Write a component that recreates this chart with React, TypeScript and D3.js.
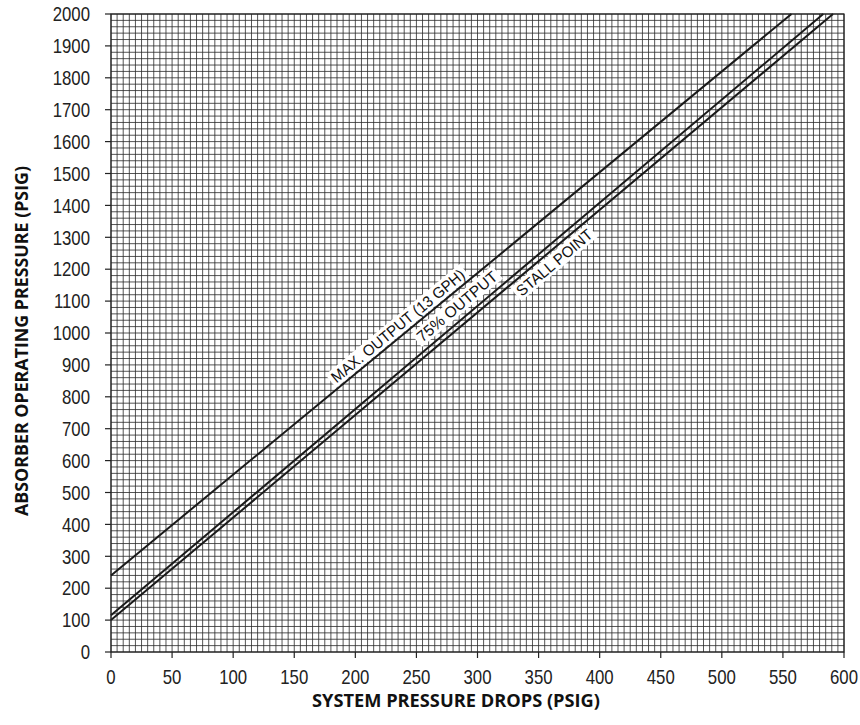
import * as d3 from "d3"

// tick labels
const xTicks = [0, 50, 100, 150, 200, 250, 300, 350, 400, 450, 500, 550, 600]
const yTicks = [0, 100, 200, 300, 400, 500, 600, 700, 800, 900, 1000, 1100, 1200, 1300, 1400, 1500, 1600, 1700, 1800, 1900, 2000]

// curves (system pressure drop -> absorber operating pressure)
const maxOutput: [number, number][] = [[0, 240], [557, 2000]]
const output75: [number, number][] = [[0, 115], [583, 2000]]
const stallPoint: [number, number][] = [[0, 100], [591, 2000]]

const seriesNames = ["MAX. OUTPUT (13 GPH)", "75% OUTPUT", "STALL POINT"]
// x value along each line where its label sits
const labelAt = [240, 290, 357]

const W = 860
const H = 725
const margin = { top: 14, right: 16, bottom: 73, left: 111 }

export default function App() {
  const x = d3.scaleLinear().domain([0, 600]).range([margin.left, W - margin.right])
  const y = d3.scaleLinear().domain([0, 2000]).range([H - margin.bottom, margin.top])

  const line = d3
    .line<[number, number]>()
    .x((d) => x(d[0]))
    .y((d) => y(d[1]))

  const series = [maxOutput, output75, stallPoint]
  // label placement: offset perpendicular to the line (negative = above)
  const offsets = [-10, -13, 11]
  const widths = [168, 100, 94]

  const gridX = d3.range(0, 601, 5)
  const gridY = d3.range(0, 2001, 20)

  const interp = (pts: [number, number][], xv: number) => {
    const [a, b] = pts
    return a[1] + ((b[1] - a[1]) * (xv - a[0])) / (b[0] - a[0])
  }

  return (
    <svg
      width={W}
      height={H}
      style={{ position: "absolute", left: 0, top: 0, background: "#fff" }}
      fontFamily="'Liberation Sans', Arial, sans-serif"
    >
      {/* grid */}
      <g stroke="#2a2a2a" strokeWidth={0.8}>
        {gridX.map((v) => (
          <line key={"gx" + v} x1={x(v)} x2={x(v)} y1={y(0)} y2={y(2000)} />
        ))}
        {gridY.map((v) => (
          <line key={"gy" + v} x1={x(0)} x2={x(600)} y1={y(v)} y2={y(v)} />
        ))}
      </g>
      <rect
        x={x(0)}
        y={y(2000)}
        width={x(600) - x(0)}
        height={y(0) - y(2000)}
        fill="none"
        stroke="#222"
        strokeWidth={1.2}
      />

      {/* y axis */}
      <g>
        {yTicks.map((v) => (
          <g key={"yt" + v}>
            <line x1={x(0) - 6} x2={x(0)} y1={y(v)} y2={y(v)} stroke="#222" strokeWidth={1.2} />
            <text
              transform={`translate(90,${y(v)}) scale(0.84,1)`}
              dy="0.36em"
              textAnchor="end"
              fontSize={20}
              fill="#222"
            >
              {v}
            </text>
          </g>
        ))}
      </g>

      {/* x axis */}
      <g>
        {xTicks.map((v) => (
          <g key={"xt" + v}>
            <line x1={x(v)} x2={x(v)} y1={y(0)} y2={y(0) + 6} stroke="#222" strokeWidth={1.2} />
            <text
              transform={`translate(${x(v)},683.5) scale(0.84,1)`}
              textAnchor="middle"
              fontSize={20}
              fill="#222"
            >
              {v}
            </text>
          </g>
        ))}
      </g>

      {/* axis titles */}
      <text
        x={456}
        y={707}
        textAnchor="middle"
        fontFamily="'Open Sans', sans-serif"
        fontWeight="bold"
        fontSize={18}
        textLength={288}
        lengthAdjust="spacingAndGlyphs"
        fill="#111"
      >
        SYSTEM PRESSURE DROPS (PSIG)
      </text>
      <text
        transform="translate(28,341) rotate(-90)"
        textAnchor="middle"
        fontFamily="'Open Sans', sans-serif"
        fontWeight="bold"
        fontSize={18}
        textLength={350}
        lengthAdjust="spacingAndGlyphs"
        fill="#111"
      >
        ABSORBER OPERATING PRESSURE (PSIG)
      </text>

      {/* labels (white boxes under lines) */}
      {series.map((pts, i) => {
        const xv = labelAt[i]
        const px = x(xv)
        const py = y(interp(pts, xv))
        const ang =
          (Math.atan2(y(pts[1][1]) - y(pts[0][1]), x(pts[1][0]) - x(pts[0][0])) * 180) / Math.PI
        const w = widths[i]
        return (
          <g key={"lbl" + i} transform={`translate(${px},${py}) rotate(${ang}) translate(0,${offsets[i]})`}>
            <rect x={-w / 2 - 3} y={-8.5} width={w + 6} height={17} fill="#fff" />
            <text
              textAnchor="middle"
              dy="0.36em"
              fontSize={15.5}
              textLength={w}
              lengthAdjust="spacingAndGlyphs"
              fill="#111"
            >
              {seriesNames[i]}
            </text>
          </g>
        )
      })}

      {/* lines */}
      {series.map((pts, i) => (
        <path key={"ln" + i} d={line(pts) || ""} fill="none" stroke="#1a1a1a" strokeWidth={2} />
      ))}
    </svg>
  )
}
